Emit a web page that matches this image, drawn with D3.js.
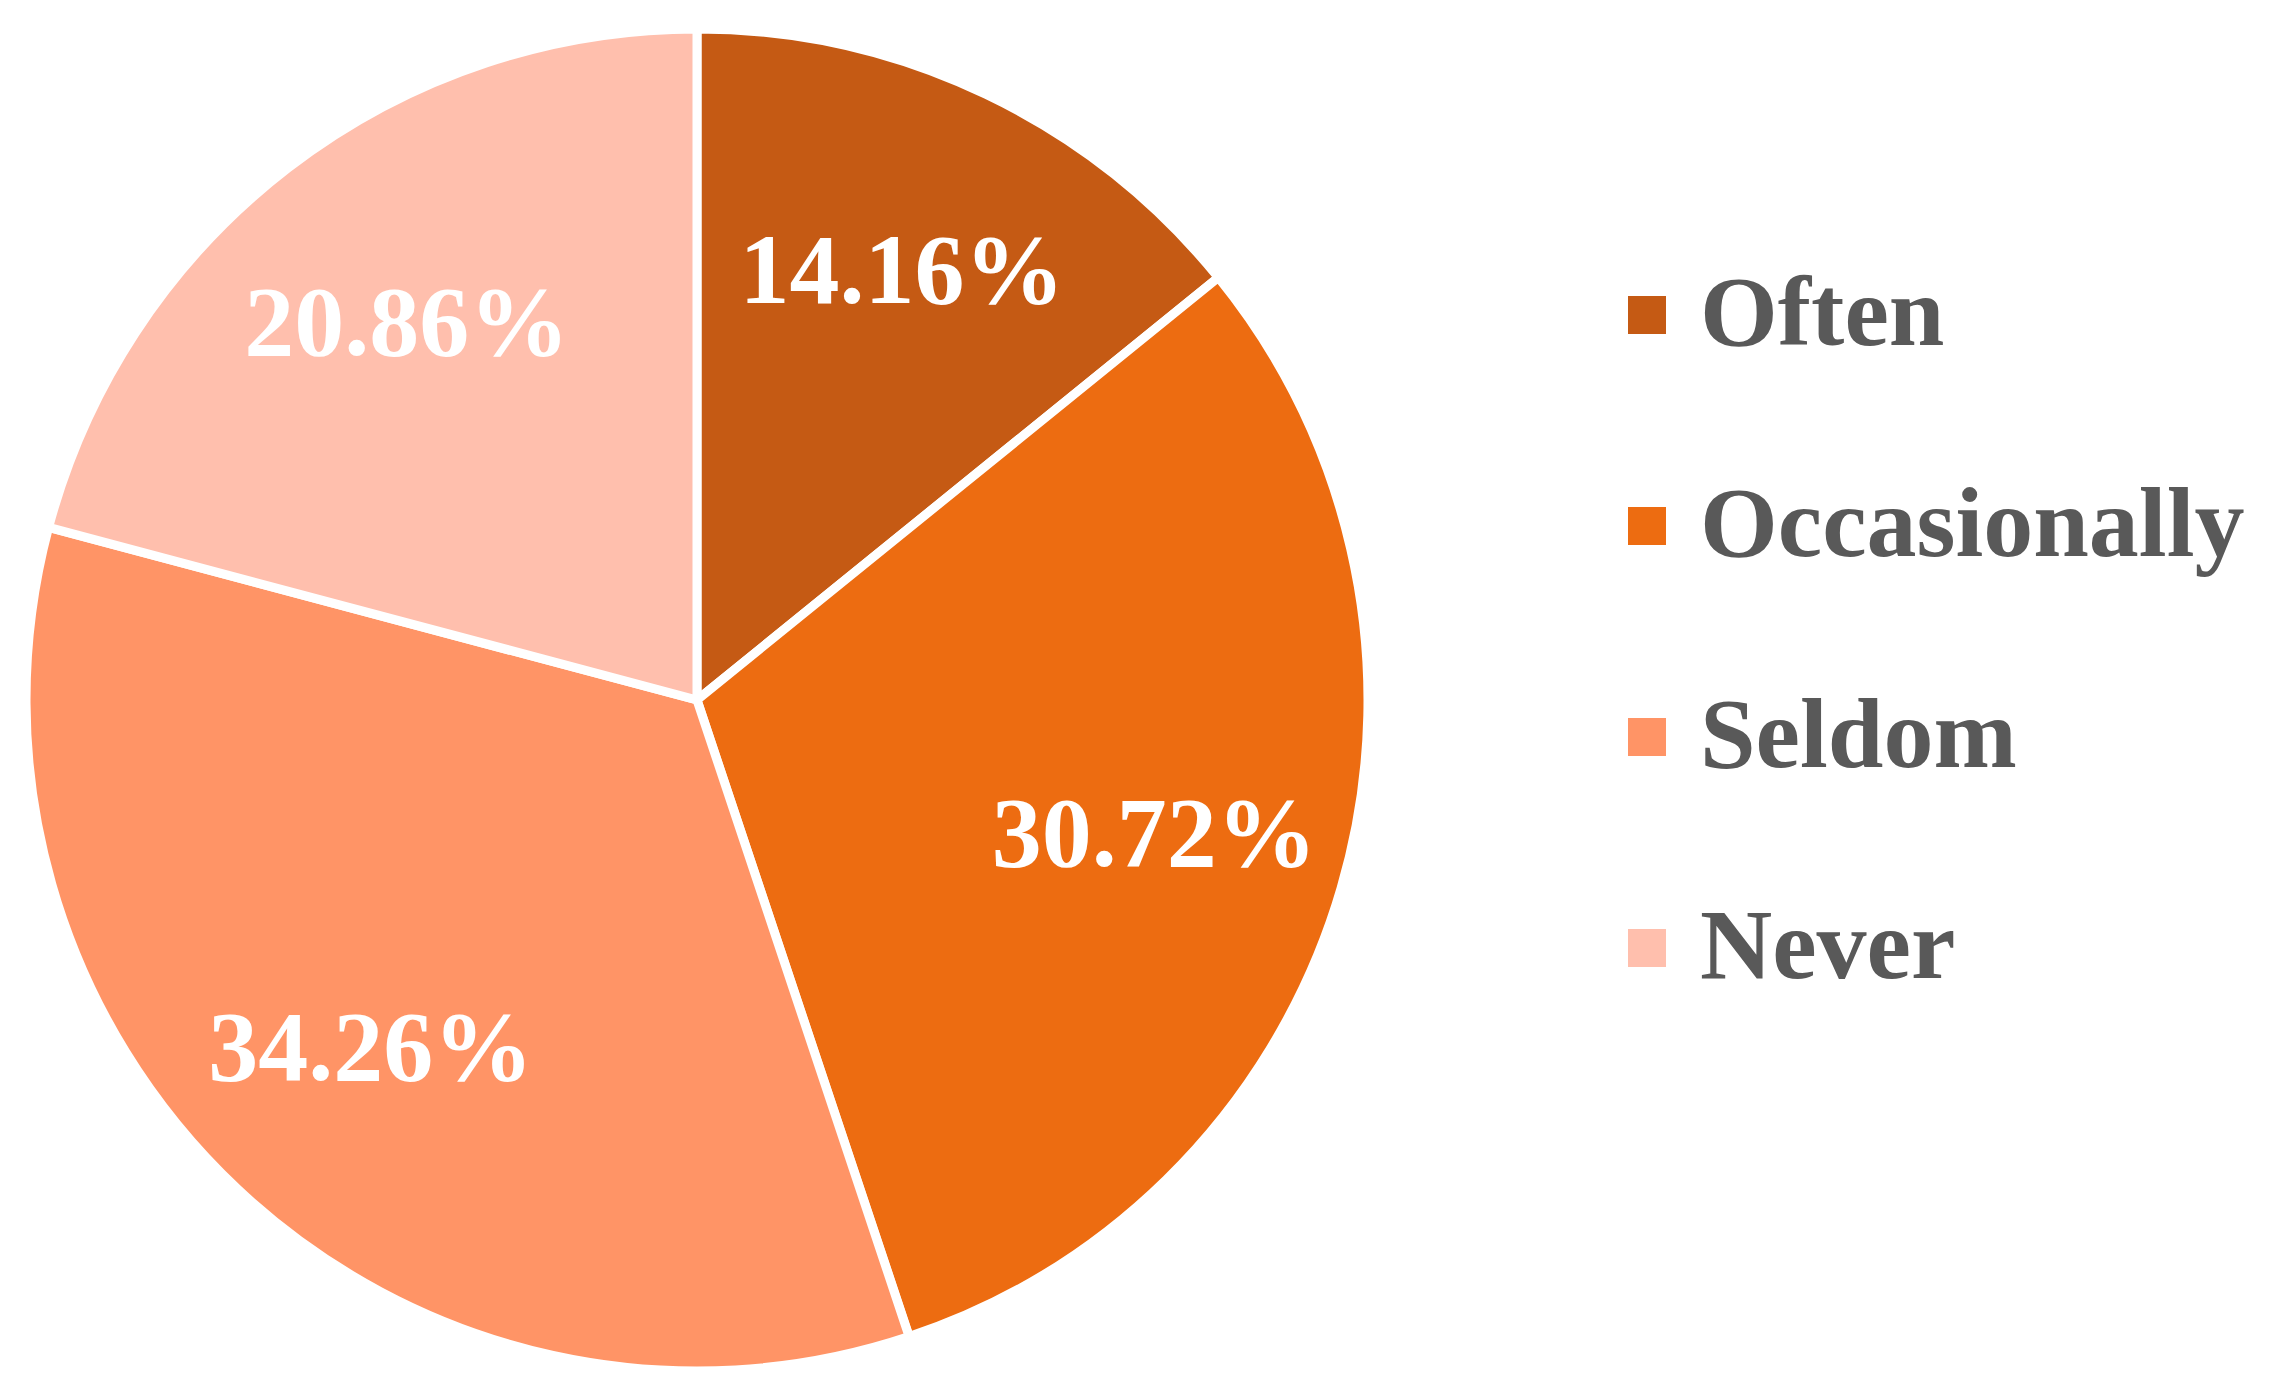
<!DOCTYPE html>
<html>
<head>
<meta charset="utf-8">
<script src="https://cdn.jsdelivr.net/npm/d3@7"></script>
<style>
  html, body { margin: 0; padding: 0; background: #ffffff; }
  #chart { position: relative; width: 2281px; height: 1397px; overflow: hidden; }
  #chart svg { position: absolute; left: 0; top: 0; display: block; }
  .txt { position: absolute; white-space: nowrap; font-family: "Liberation Serif", "Times New Roman", Times, serif;
         font-weight: bold; font-size: 100px; line-height: 100px; }
</style>
</head>
<body>
<div id="chart"></div>
<script>
const categories = ["Often", "Occasionally", "Seldom", "Never"];
const values = [14.16, 30.72, 34.26, 20.86];
const colors = ["#C55A14", "#ED6C11", "#FF9466", "#FFBFAD"];

const W = 2281, H = 1397;
const cx = 697, cy = 700, R = 671;
const labelR = 0.71 * R;

const chart = d3.select("#chart");
const svg = chart.append("svg")
  .attr("width", W).attr("height", H)
  .attr("viewBox", `0 0 ${W} ${H}`);

const color = d3.scaleOrdinal().domain(categories).range(colors);

const pie = d3.pie().sort(null).value(d => d.value);
const data = categories.map((c, i) => ({ cat: c, value: values[i] }));
const arcs = pie(data);

const arc = d3.arc().innerRadius(0).outerRadius(R);
const labelArc = d3.arc().innerRadius(labelR).outerRadius(labelR);

const g = svg.append("g").attr("transform", `translate(${cx},${cy})`);

g.selectAll("path.slice").data(arcs).enter().append("path")
  .attr("class", "slice")
  .attr("d", arc)
  .attr("fill", d => color(d.data.cat))
  .attr("stroke", "#ffffff")
  .attr("stroke-width", 9)
  .attr("stroke-linejoin", "miter");

// Data labels (HTML text layered over the SVG, positioned from arc centroids)
chart.selectAll("div.lbl").data(arcs).enter().append("div")
  .attr("class", "txt lbl")
  .style("left", d => (cx + labelArc.centroid(d)[0]) + "px")
  .style("top", d => (cy + labelArc.centroid(d)[1]) + "px")
  .style("transform", "translate(-50%, -50%)")
  .style("color", "#ffffff")
  .text(d => d.data.value.toFixed(2) + "%");

// Legend
const legendX = 1628, legendY = 315, rowH = 211;
svg.append("g").selectAll("rect.key").data(categories).enter().append("rect")
  .attr("class", "key")
  .attr("x", legendX).attr("y", (d, i) => legendY + i * rowH - 19)
  .attr("width", 38).attr("height", 38)
  .attr("fill", d => color(d));

chart.selectAll("div.leg").data(categories).enter().append("div")
  .attr("class", "txt leg")
  .style("left", (legendX + 72) + "px")
  .style("top", (d, i) => (legendY + i * rowH + 31 - 84) + "px")
  .style("color", "#595959")
  .text(d => d);
</script>
</body>
</html>
